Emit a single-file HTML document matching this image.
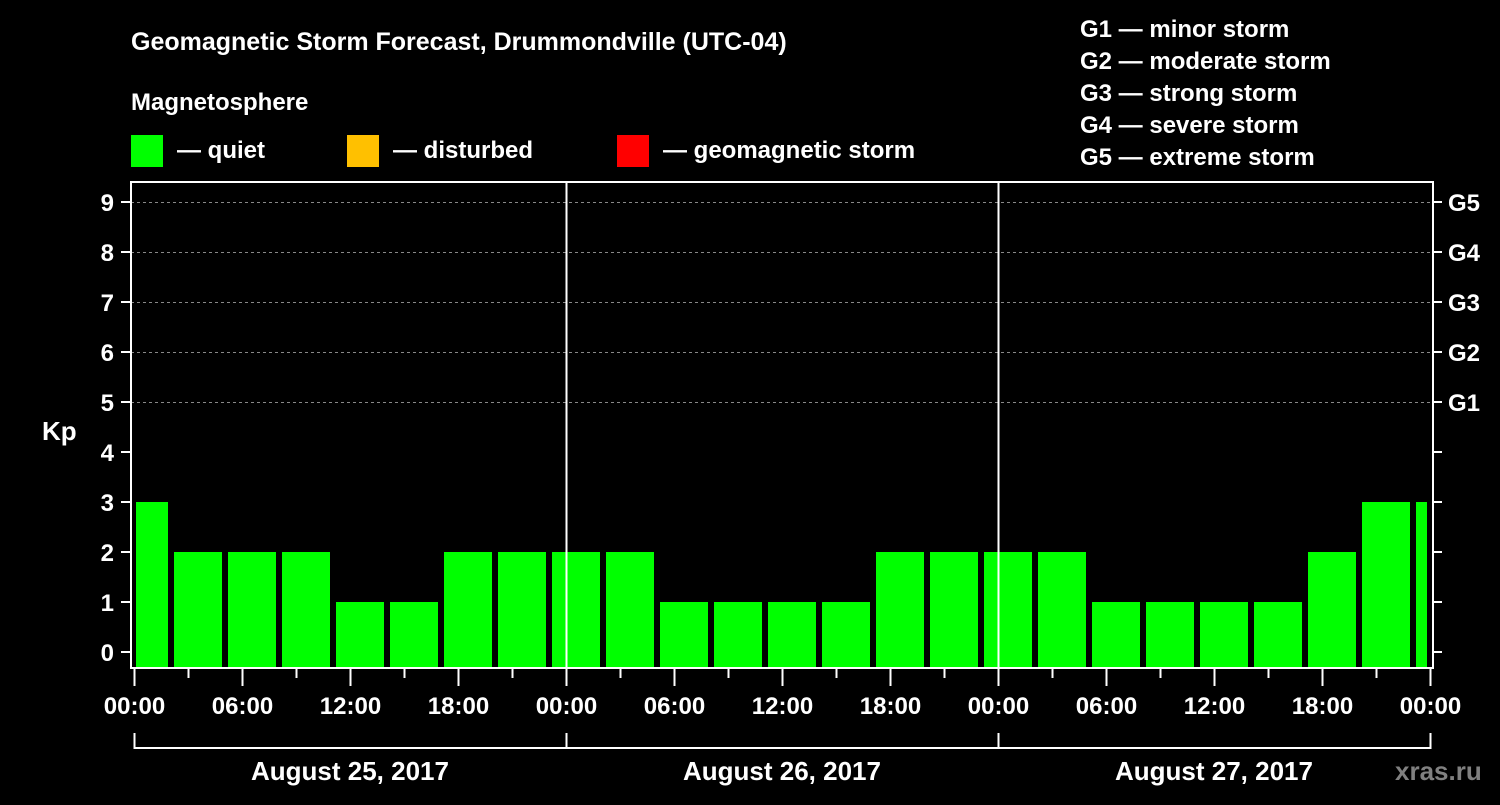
<!DOCTYPE html>
<html><head><meta charset="utf-8"><style>
html,body{margin:0;padding:0;background:#000;}
svg text{font-family:"Liberation Sans",Arial,sans-serif;font-weight:bold;fill:#fff;}
</style></head><body>
<svg id="chart" width="1500" height="800" xmlns="http://www.w3.org/2000/svg">
<rect width="1500" height="800" fill="#000"/>
<text x="131" y="50" font-size="25">Geomagnetic Storm Forecast, Drummondville (UTC-04)</text>
<text x="131" y="110" font-size="24">Magnetosphere</text>
<g><rect x="131" y="135" width="32" height="32" fill="#00ff00"/><text x="177" y="158" font-size="24">— quiet</text></g>
<g><rect x="347" y="135" width="32" height="32" fill="#ffc000"/><text x="393" y="158" font-size="24">— disturbed</text></g>
<g><rect x="617" y="135" width="32" height="32" fill="#ff0000"/><text x="663" y="158" font-size="24">— geomagnetic storm</text></g>
<g font-size="24">
<text x="1080" y="37">G1 — minor storm</text>
<text x="1080" y="69">G2 — moderate storm</text>
<text x="1080" y="101">G3 — strong storm</text>
<text x="1080" y="133">G4 — severe storm</text>
<text x="1080" y="165">G5 — extreme storm</text>
</g>
<text x="42" y="440" font-size="26">Kp</text>
<g id="grid"></g><g id="bars"></g><g id="axes"></g>
<text x="1395" y="780" font-size="26" style="fill:#808080">xras.ru</text>
</svg>
<script>
const kpValues=[3,2,2,2,1,1,2,2,2,2,1,1,1,1,2,2,2,2,1,1,1,1,2,3,3];
const firstBlockStartHour=-1;
const blockHours=3;
const dayLabels=["August 25, 2017","August 26, 2017","August 27, 2017"];
const yTicks=[0,1,2,3,4,5,6,7,8,9];
const gLabels=["G1","G2","G3","G4","G5"];
const gLevels=[5,6,7,8,9];
const timeLabels=["00:00","06:00","12:00","18:00"];

const NS="http://www.w3.org/2000/svg";
const X0=134,PXH=18,Y0=652,PXU=50,TOP=182,BOT=668,XMAX=X0+72*PXH;
const x=h=>X0+h*PXH, y=v=>Y0-v*PXU;
function mk(p,tag,a){const e=document.createElementNS(NS,tag);for(const k in a)e.setAttribute(k,a[k]);p.appendChild(e);return e;}
const grid=document.getElementById('grid'),bars=document.getElementById('bars'),axes=document.getElementById('axes');
gLevels.forEach((lv,i)=>{
 const l=mk(grid,'line',{x1:131,x2:1433,y1:y(lv)+.5,y2:y(lv)+.5,stroke:'#888','stroke-dasharray':'3,3','stroke-width':1});
 
 
 const t=mk(axes,'text',{x:1448,y:y(lv)+9,'font-size':24});t.textContent=gLabels[i];
 
 
});
kpValues.forEach((v,i)=>{
 const s=firstBlockStartHour+i*blockHours,e=s+blockHours;
 let a=x(s)+4,b=x(e)-2;a=Math.max(a,X0+2);b=Math.min(b,XMAX-3);
 const r=mk(bars,'rect',{x:a,y:y(v),width:b-a,height:BOT-y(v),fill:v>=5?'#ff0000':(v>=4?'#ffc000':'#00ff00')});
 
 
});
// day separators
[1,2].forEach(d=>{const l=mk(axes,'line',{x1:x(d*24)+.5,x2:x(d*24)+.5,y1:TOP,y2:BOT,stroke:'#fff','stroke-width':2});
 
 });
// frame
const f=mk(axes,'rect',{x:131,y:TOP,width:1302,height:BOT-TOP,fill:'none',stroke:'#fff','stroke-width':2});


yTicks.forEach(v=>{
 mk(axes,'line',{x1:121,x2:131,y1:y(v),y2:y(v),stroke:'#fff','stroke-width':2});
 mk(axes,'line',{x1:1433,x2:1442,y1:y(v),y2:y(v),stroke:'#fff','stroke-width':2});
 const t=mk(axes,'text',{x:114,y:y(v)+9,'font-size':24,'text-anchor':'end'});t.textContent=v;
 
 
});
for(let h=0;h<=72;h+=3){
 const major=h%6===0;
 mk(axes,'line',{x1:x(h)+.5,x2:x(h)+.5,y1:BOT,y2:major?686:678,stroke:'#fff','stroke-width':2});
 if(major){const t=mk(axes,'text',{x:x(h)+.5,y:714,'font-size':24,'text-anchor':'middle'});t.textContent=timeLabels[(h/6)%4];
 
 }
}
dayLabels.forEach((d,i)=>{
 const p=mk(axes,'path',{d:`M${x(i*24)+.5},733V748H${x(i*24+24)+.5}V733`,stroke:'#fff','stroke-width':2,fill:'none'});
 
 
 const t=mk(axes,'text',{x:x(i*24+12),y:780,'font-size':26,'text-anchor':'middle'});t.textContent=d;
 
 
});
</script>
</body></html>
